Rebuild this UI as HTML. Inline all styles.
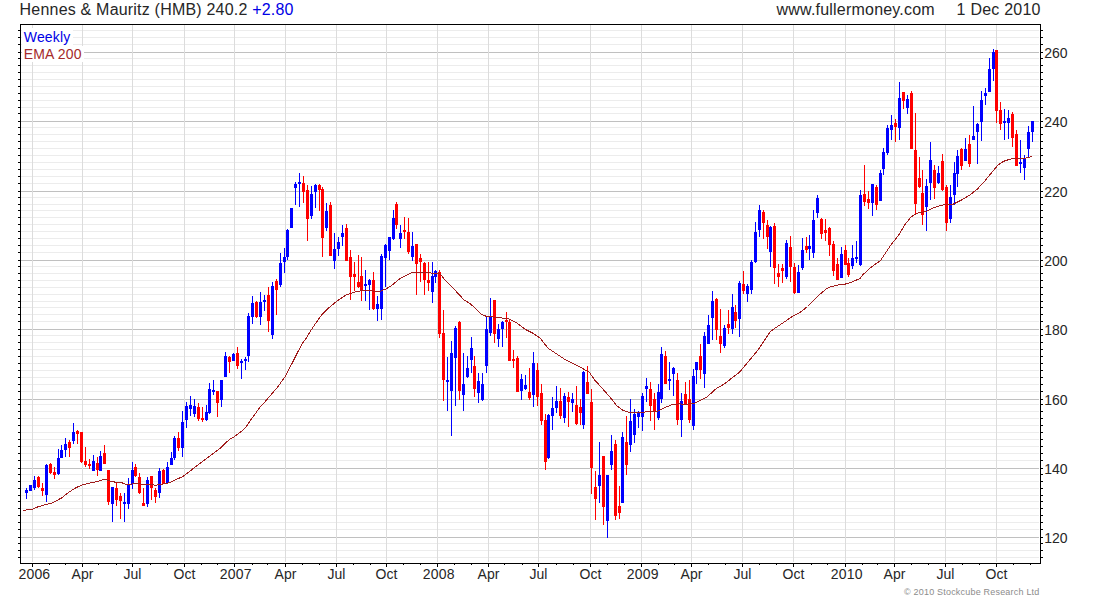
<!DOCTYPE html><html><head><meta charset="utf-8"><title>Hennes &amp; Mauritz (HMB)</title><style>html,body{margin:0;padding:0;background:#fff}body{width:1100px;height:600px;overflow:hidden;position:relative;font-family:"Liberation Sans",sans-serif;color:#262626}.t{position:absolute;white-space:nowrap;line-height:1}svg{position:absolute;left:0;top:0}</style></head><body><svg width="1100" height="600" viewBox="0 0 1100 600" shape-rendering="crispEdges"><rect x="21" y="557" width="1018" height="1" fill="#ececec"/><rect x="21" y="550" width="1018" height="1" fill="#ececec"/><rect x="21" y="543" width="1018" height="1" fill="#ececec"/><rect x="21" y="537" width="1018" height="1" fill="#c0c0c0"/><rect x="21" y="529" width="1018" height="1" fill="#ececec"/><rect x="21" y="522" width="1018" height="1" fill="#ececec"/><rect x="21" y="515" width="1018" height="1" fill="#ececec"/><rect x="21" y="508" width="1018" height="1" fill="#ececec"/><rect x="21" y="501" width="1018" height="1" fill="#ececec"/><rect x="21" y="495" width="1018" height="1" fill="#ececec"/><rect x="21" y="488" width="1018" height="1" fill="#ececec"/><rect x="21" y="481" width="1018" height="1" fill="#ececec"/><rect x="21" y="474" width="1018" height="1" fill="#ececec"/><rect x="21" y="468" width="1018" height="1" fill="#c0c0c0"/><rect x="21" y="460" width="1018" height="1" fill="#ececec"/><rect x="21" y="453" width="1018" height="1" fill="#ececec"/><rect x="21" y="446" width="1018" height="1" fill="#ececec"/><rect x="21" y="439" width="1018" height="1" fill="#ececec"/><rect x="21" y="432" width="1018" height="1" fill="#ececec"/><rect x="21" y="425" width="1018" height="1" fill="#ececec"/><rect x="21" y="418" width="1018" height="1" fill="#ececec"/><rect x="21" y="411" width="1018" height="1" fill="#ececec"/><rect x="21" y="404" width="1018" height="1" fill="#ececec"/><rect x="21" y="399" width="1018" height="1" fill="#c0c0c0"/><rect x="21" y="391" width="1018" height="1" fill="#ececec"/><rect x="21" y="384" width="1018" height="1" fill="#ececec"/><rect x="21" y="377" width="1018" height="1" fill="#ececec"/><rect x="21" y="370" width="1018" height="1" fill="#ececec"/><rect x="21" y="363" width="1018" height="1" fill="#ececec"/><rect x="21" y="356" width="1018" height="1" fill="#ececec"/><rect x="21" y="349" width="1018" height="1" fill="#ececec"/><rect x="21" y="342" width="1018" height="1" fill="#ececec"/><rect x="21" y="335" width="1018" height="1" fill="#ececec"/><rect x="21" y="329" width="1018" height="1" fill="#c0c0c0"/><rect x="21" y="321" width="1018" height="1" fill="#ececec"/><rect x="21" y="314" width="1018" height="1" fill="#ececec"/><rect x="21" y="307" width="1018" height="1" fill="#ececec"/><rect x="21" y="301" width="1018" height="1" fill="#ececec"/><rect x="21" y="294" width="1018" height="1" fill="#ececec"/><rect x="21" y="287" width="1018" height="1" fill="#ececec"/><rect x="21" y="280" width="1018" height="1" fill="#ececec"/><rect x="21" y="273" width="1018" height="1" fill="#ececec"/><rect x="21" y="266" width="1018" height="1" fill="#ececec"/><rect x="21" y="260" width="1018" height="1" fill="#c0c0c0"/><rect x="21" y="252" width="1018" height="1" fill="#ececec"/><rect x="21" y="245" width="1018" height="1" fill="#ececec"/><rect x="21" y="238" width="1018" height="1" fill="#ececec"/><rect x="21" y="231" width="1018" height="1" fill="#ececec"/><rect x="21" y="224" width="1018" height="1" fill="#ececec"/><rect x="21" y="217" width="1018" height="1" fill="#ececec"/><rect x="21" y="210" width="1018" height="1" fill="#ececec"/><rect x="21" y="204" width="1018" height="1" fill="#ececec"/><rect x="21" y="197" width="1018" height="1" fill="#ececec"/><rect x="21" y="191" width="1018" height="1" fill="#c0c0c0"/><rect x="21" y="183" width="1018" height="1" fill="#ececec"/><rect x="21" y="176" width="1018" height="1" fill="#ececec"/><rect x="21" y="169" width="1018" height="1" fill="#ececec"/><rect x="21" y="162" width="1018" height="1" fill="#ececec"/><rect x="21" y="155" width="1018" height="1" fill="#ececec"/><rect x="21" y="148" width="1018" height="1" fill="#ececec"/><rect x="21" y="141" width="1018" height="1" fill="#ececec"/><rect x="21" y="134" width="1018" height="1" fill="#ececec"/><rect x="21" y="127" width="1018" height="1" fill="#ececec"/><rect x="21" y="121" width="1018" height="1" fill="#c0c0c0"/><rect x="21" y="113" width="1018" height="1" fill="#ececec"/><rect x="21" y="107" width="1018" height="1" fill="#ececec"/><rect x="21" y="100" width="1018" height="1" fill="#ececec"/><rect x="21" y="93" width="1018" height="1" fill="#ececec"/><rect x="21" y="86" width="1018" height="1" fill="#ececec"/><rect x="21" y="79" width="1018" height="1" fill="#ececec"/><rect x="21" y="72" width="1018" height="1" fill="#ececec"/><rect x="21" y="65" width="1018" height="1" fill="#ececec"/><rect x="21" y="58" width="1018" height="1" fill="#ececec"/><rect x="21" y="52" width="1018" height="1" fill="#c0c0c0"/><rect x="21" y="44" width="1018" height="1" fill="#ececec"/><rect x="21" y="37" width="1018" height="1" fill="#ececec"/><rect x="21" y="30" width="1018" height="1" fill="#ececec"/><rect x="32" y="25" width="1" height="537" fill="#dcdcdc"/><rect x="82" y="25" width="1" height="537" fill="#dcdcdc"/><rect x="132" y="25" width="1" height="537" fill="#dcdcdc"/><rect x="184" y="25" width="1" height="537" fill="#dcdcdc"/><rect x="234" y="25" width="1" height="537" fill="#dcdcdc"/><rect x="285" y="25" width="1" height="537" fill="#dcdcdc"/><rect x="336" y="25" width="1" height="537" fill="#dcdcdc"/><rect x="386" y="25" width="1" height="537" fill="#dcdcdc"/><rect x="437" y="25" width="1" height="537" fill="#dcdcdc"/><rect x="488" y="25" width="1" height="537" fill="#dcdcdc"/><rect x="538" y="25" width="1" height="537" fill="#dcdcdc"/><rect x="590" y="25" width="1" height="537" fill="#dcdcdc"/><rect x="641" y="25" width="1" height="537" fill="#dcdcdc"/><rect x="691" y="25" width="1" height="537" fill="#dcdcdc"/><rect x="742" y="25" width="1" height="537" fill="#dcdcdc"/><rect x="793" y="25" width="1" height="537" fill="#dcdcdc"/><rect x="845" y="25" width="1" height="537" fill="#dcdcdc"/><rect x="894" y="25" width="1" height="537" fill="#dcdcdc"/><rect x="945" y="25" width="1" height="537" fill="#dcdcdc"/><rect x="996" y="25" width="1" height="537" fill="#dcdcdc"/><path fill="#ff0000" d="M38 476h1v12h-1zM37 477h3v10h-3zM42 483h1v13h-1zM41 488h3v3h-3zM50 463h1v11h-1zM49 464h3v9h-3zM54 467h1v12h-1zM53 472h3v3h-3zM69 440h1v17h-1zM68 442h3v6h-3zM77 430h1v14h-1zM76 431h3v3h-3zM81 432h1v31h-1zM80 432h3v30h-3zM85 447h1v20h-1zM84 461h3v4h-3zM89 459h1v10h-1zM88 464h3v2h-3zM97 457h1v19h-1zM96 463h3v7h-3zM104 445h1v19h-1zM103 453h3v11h-3zM108 470h1v35h-1zM107 470h3v32h-3zM116 483h1v23h-1zM115 488h3v12h-3zM120 493h1v26h-1zM119 496h3v5h-3zM135 464h1v13h-1zM134 467h3v9h-3zM139 473h1v21h-1zM138 477h3v16h-3zM143 488h1v18h-1zM142 503h3v3h-3zM151 476h1v24h-1zM150 476h3v12h-3zM155 488h1v15h-1zM154 490h3v7h-3zM163 469h1v15h-1zM162 470h3v14h-3zM178 432h1v19h-1zM177 438h3v10h-3zM198 403h1v18h-1zM197 407h3v12h-3zM202 407h1v15h-1zM201 418h3v2h-3zM217 391h1v26h-1zM216 391h3v12h-3zM229 356h1v17h-1zM228 357h3v5h-3zM237 347h1v22h-1zM236 353h3v13h-3zM256 301h1v17h-1zM255 302h3v15h-3zM268 287h1v45h-1zM267 295h3v26h-3zM276 279h1v36h-1zM275 281h3v9h-3zM303 176h1v27h-1zM302 183h3v9h-3zM307 185h1v56h-1zM306 190h3v29h-3zM319 184h1v27h-1zM318 185h3v5h-3zM322 187h1v70h-1zM321 189h3v49h-3zM330 202h1v54h-1zM329 205h3v51h-3zM346 224h1v37h-1zM345 228h3v33h-3zM350 250h1v50h-1zM349 257h3v20h-3zM354 262h1v29h-1zM353 274h3v3h-3zM358 255h1v33h-1zM357 282h3v5h-3zM361 257h1v44h-1zM360 276h3v14h-3zM373 272h1v38h-1zM372 280h3v29h-3zM396 202h1v27h-1zM395 204h3v21h-3zM404 217h1v22h-1zM403 230h3v2h-3zM408 218h1v36h-1zM407 232h3v20h-3zM416 244h1v51h-1zM415 244h3v20h-3zM420 254h1v28h-1zM419 258h3v4h-3zM424 262h1v33h-1zM423 263h3v17h-3zM428 262h1v29h-1zM427 280h3v3h-3zM439 270h1v68h-1zM438 272h3v62h-3zM443 310h1v91h-1zM442 333h3v47h-3zM459 321h1v79h-1zM458 322h3v69h-3zM474 356h1v41h-1zM473 366h3v23h-3zM494 300h1v43h-1zM493 300h3v34h-3zM506 312h1v26h-1zM505 320h3v2h-3zM509 320h1v41h-1zM508 322h3v39h-3zM513 350h1v18h-1zM512 359h3v2h-3zM517 356h1v36h-1zM516 358h3v34h-3zM529 368h1v32h-1zM528 392h3v6h-3zM537 363h1v43h-1zM536 370h3v27h-3zM541 384h1v41h-1zM540 393h3v28h-3zM545 414h1v56h-1zM544 420h3v42h-3zM560 388h1v31h-1zM559 401h3v15h-3zM568 392h1v35h-1zM567 397h3v5h-3zM576 386h1v39h-1zM575 405h3v19h-3zM580 399h1v26h-1zM579 407h3v6h-3zM587 366h1v28h-1zM586 382h3v12h-3zM591 389h1v105h-1zM590 402h3v66h-3zM595 471h1v49h-1zM594 487h3v12h-3zM603 456h1v69h-1zM602 456h3v51h-3zM615 440h1v80h-1zM614 444h3v72h-3zM619 486h1v33h-1zM618 506h3v7h-3zM626 416h1v59h-1zM625 442h3v23h-3zM650 382h1v39h-1zM649 389h3v17h-3zM654 393h1v37h-1zM653 399h3v12h-3zM665 351h1v33h-1zM664 356h3v28h-3zM677 373h1v52h-1zM676 380h3v40h-3zM685 382h1v22h-1zM684 394h3v10h-3zM689 380h1v43h-1zM688 399h3v21h-3zM700 344h1v35h-1zM699 356h3v14h-3zM716 298h1v42h-1zM715 299h3v31h-3zM720 309h1v44h-1zM719 336h3v8h-3zM728 310h1v24h-1zM727 324h3v4h-3zM735 305h1v23h-1zM734 312h3v9h-3zM743 271h1v23h-1zM742 284h3v7h-3zM763 210h1v29h-1zM762 212h3v11h-3zM767 220h1v29h-1zM766 225h3v12h-3zM774 223h1v61h-1zM773 226h3v42h-3zM778 264h1v23h-1zM777 273h3v4h-3zM782 264h1v19h-1zM781 268h3v3h-3zM790 236h1v46h-1zM789 247h3v20h-3zM794 263h1v31h-1zM793 267h3v26h-3zM806 237h1v16h-1zM805 246h3v4h-3zM821 218h1v21h-1zM820 219h3v15h-3zM825 219h1v22h-1zM824 230h3v3h-3zM829 227h1v29h-1zM828 228h3v17h-3zM833 241h1v35h-1zM832 244h3v27h-3zM837 258h1v22h-1zM836 264h3v16h-3zM845 245h1v20h-1zM844 250h3v15h-3zM848 258h1v19h-1zM847 263h3v12h-3zM864 165h1v41h-1zM863 194h3v8h-3zM868 191h1v18h-1zM867 199h3v4h-3zM876 185h1v25h-1zM875 187h3v18h-3zM895 119h1v23h-1zM894 123h3v4h-3zM903 92h1v17h-1zM902 92h3v9h-3zM911 91h1v58h-1zM910 93h3v56h-3zM915 113h1v101h-1zM914 150h3v54h-3zM919 157h1v31h-1zM918 178h3v9h-3zM922 170h1v55h-1zM921 193h3v22h-3zM934 165h1v34h-1zM933 170h3v18h-3zM942 154h1v37h-1zM941 161h3v29h-3zM946 185h1v46h-1zM945 187h3v36h-3zM961 148h1v22h-1zM960 149h3v17h-3zM969 135h1v32h-1zM968 144h3v20h-3zM996 50h1v73h-1zM995 50h3v61h-3zM1000 102h1v28h-1zM999 110h3v14h-3zM1012 112h1v35h-1zM1011 114h3v24h-3zM1016 130h1v36h-1zM1015 134h3v32h-3z"/><path fill="#0000ff" d="M26 488h1v11h-1zM25 490h3v3h-3zM30 485h1v6h-1zM29 485h3v6h-3zM34 476h1v14h-1zM33 480h3v8h-3zM46 464h1v38h-1zM45 465h3v30h-3zM58 449h1v26h-1zM57 458h3v16h-3zM61 445h1v13h-1zM60 450h3v8h-3zM65 438h1v19h-1zM64 444h3v6h-3zM73 423h1v21h-1zM72 432h3v9h-3zM93 455h1v16h-1zM92 461h3v10h-3zM100 451h1v20h-1zM99 456h3v15h-3zM112 487h1v35h-1zM111 487h3v17h-3zM124 493h1v29h-1zM123 502h3v2h-3zM128 478h1v31h-1zM127 484h3v20h-3zM132 462h1v27h-1zM131 470h3v14h-3zM147 477h1v30h-1zM146 480h3v24h-3zM159 468h1v30h-1zM158 471h3v22h-3zM167 462h1v21h-1zM166 467h3v16h-3zM171 452h1v13h-1zM170 458h3v7h-3zM174 436h1v24h-1zM173 438h3v20h-3zM182 411h1v46h-1zM181 422h3v26h-3zM186 402h1v26h-1zM185 406h3v14h-3zM190 396h1v20h-1zM189 405h3v4h-3zM194 399h1v18h-1zM193 406h3v8h-3zM206 405h1v16h-1zM205 412h3v8h-3zM209 383h1v31h-1zM208 389h3v24h-3zM213 380h1v15h-1zM212 390h3v2h-3zM221 380h1v27h-1zM220 380h3v20h-3zM225 352h1v25h-1zM224 356h3v21h-3zM233 353h1v8h-1zM232 354h3v7h-3zM241 359h1v20h-1zM240 361h3v2h-3zM245 357h1v13h-1zM244 359h3v2h-3zM248 313h1v49h-1zM247 316h3v40h-3zM252 296h1v28h-1zM251 303h3v14h-3zM260 292h1v33h-1zM259 302h3v15h-3zM264 295h1v16h-1zM263 300h3v2h-3zM272 282h1v57h-1zM271 286h3v49h-3zM280 253h1v34h-1zM279 263h3v22h-3zM284 248h1v25h-1zM283 257h3v5h-3zM287 229h1v31h-1zM286 230h3v27h-3zM291 208h1v20h-1zM290 208h3v20h-3zM295 182h1v23h-1zM294 184h3v4h-3zM299 173h1v34h-1zM298 182h3v2h-3zM311 186h1v33h-1zM310 194h3v22h-3zM315 184h1v24h-1zM314 185h3v7h-3zM326 203h1v28h-1zM325 211h3v17h-3zM334 233h1v36h-1zM333 249h3v12h-3zM338 237h1v19h-1zM337 242h3v7h-3zM342 225h1v21h-1zM341 233h3v4h-3zM365 270h1v31h-1zM364 284h3v2h-3zM369 279h1v31h-1zM368 280h3v5h-3zM377 296h1v25h-1zM376 304h3v5h-3zM381 254h1v66h-1zM380 256h3v53h-3zM385 244h1v43h-1zM384 245h3v13h-3zM389 237h1v23h-1zM388 237h3v14h-3zM393 210h1v30h-1zM392 218h3v21h-3zM400 225h1v23h-1zM399 233h3v6h-3zM412 232h1v29h-1zM411 246h3v11h-3zM432 262h1v41h-1zM431 276h3v16h-3zM435 270h1v13h-1zM434 271h3v6h-3zM447 357h1v54h-1zM446 380h3v2h-3zM451 341h1v95h-1zM450 353h3v38h-3zM455 326h1v80h-1zM454 328h3v30h-3zM463 353h1v58h-1zM462 384h3v11h-3zM467 356h1v22h-1zM466 368h3v9h-3zM471 337h1v36h-1zM470 348h3v12h-3zM478 373h1v30h-1zM477 381h3v12h-3zM482 373h1v28h-1zM481 384h3v16h-3zM486 316h1v57h-1zM485 329h3v37h-3zM490 298h1v38h-1zM489 316h3v17h-3zM498 324h1v23h-1zM497 329h3v10h-3zM502 321h1v26h-1zM501 322h3v7h-3zM521 374h1v26h-1zM520 379h3v12h-3zM525 375h1v15h-1zM524 385h3v4h-3zM533 352h1v55h-1zM532 363h3v32h-3zM548 414h1v45h-1zM547 415h3v43h-3zM552 397h1v33h-1zM551 408h3v8h-3zM556 386h1v27h-1zM555 401h3v7h-3zM564 393h1v30h-1zM563 396h3v22h-3zM572 393h1v19h-1zM571 399h3v4h-3zM583 371h1v58h-1zM582 372h3v53h-3zM599 442h1v61h-1zM598 475h3v11h-3zM607 475h1v63h-1zM606 475h3v46h-3zM611 435h1v35h-1zM610 451h3v14h-3zM622 432h1v71h-1zM621 437h3v66h-3zM630 399h1v53h-1zM629 421h3v24h-3zM634 409h1v34h-1zM633 414h3v21h-3zM638 411h1v17h-1zM637 413h3v4h-3zM642 393h1v38h-1zM641 396h3v21h-3zM646 378h1v24h-1zM645 386h3v3h-3zM658 384h1v36h-1zM657 392h3v26h-3zM661 347h1v56h-1zM660 354h3v45h-3zM669 362h1v28h-1zM668 379h3v2h-3zM673 367h1v29h-1zM672 368h3v6h-3zM681 393h1v44h-1zM680 401h3v19h-3zM693 369h1v61h-1zM692 376h3v50h-3zM696 362h1v22h-1zM695 362h3v8h-3zM704 332h1v56h-1zM703 336h3v38h-3zM708 315h1v29h-1zM707 325h3v19h-3zM712 291h1v49h-1zM711 301h3v17h-3zM724 325h1v23h-1zM723 328h3v18h-3zM732 294h1v40h-1zM731 307h3v22h-3zM739 281h1v56h-1zM738 283h3v36h-3zM747 284h1v18h-1zM746 286h3v8h-3zM751 260h1v34h-1zM750 262h3v28h-3zM755 222h1v41h-1zM754 232h3v30h-3zM759 205h1v32h-1zM758 210h3v20h-3zM770 226h1v41h-1zM769 227h3v25h-3zM786 240h1v39h-1zM785 243h3v34h-3zM798 265h1v28h-1zM797 272h3v21h-3zM802 238h1v32h-1zM801 250h3v18h-3zM809 235h1v25h-1zM808 246h3v3h-3zM813 210h1v48h-1zM812 220h3v33h-3zM817 195h1v23h-1zM816 198h3v15h-3zM841 247h1v31h-1zM840 254h3v24h-3zM852 245h1v24h-1zM851 258h3v8h-3zM856 241h1v22h-1zM855 257h3v2h-3zM860 190h1v76h-1zM859 195h3v70h-3zM872 184h1v32h-1zM871 184h3v19h-3zM880 170h1v31h-1zM879 173h3v28h-3zM883 148h1v27h-1zM882 152h3v17h-3zM887 125h1v30h-1zM886 128h3v25h-3zM891 115h1v25h-1zM890 125h3v5h-3zM899 82h1v58h-1zM898 98h3v30h-3zM907 95h1v19h-1zM906 99h3v9h-3zM926 179h1v52h-1zM925 186h3v21h-3zM930 142h1v58h-1zM929 160h3v23h-3zM938 166h1v18h-1zM937 173h3v10h-3zM950 185h1v38h-1zM949 197h3v22h-3zM954 162h1v43h-1zM953 173h3v22h-3zM957 150h1v37h-1zM956 156h3v18h-3zM965 138h1v23h-1zM964 149h3v12h-3zM973 106h1v34h-1zM972 136h3v4h-3zM977 123h1v41h-1zM976 124h3v8h-3zM981 91h1v50h-1zM980 100h3v22h-3zM985 88h1v17h-1zM984 93h3v3h-3zM989 58h1v34h-1zM988 69h3v23h-3zM993 49h1v32h-1zM992 52h3v17h-3zM1004 109h1v31h-1zM1003 121h3v2h-3zM1008 110h1v29h-1zM1007 118h3v5h-3zM1020 140h1v33h-1zM1019 162h3v2h-3zM1024 155h1v25h-1zM1023 158h3v10h-3zM1028 126h1v32h-1zM1027 132h3v17h-3zM1032 121h1v21h-1zM1031 121h3v11h-3z"/><polyline fill="none" stroke="#a01c1c" stroke-width="1" points="23.2,510.4 32.2,509.2 37.5,507.0 46.5,504.4 52.5,502.8 61.5,498.0 67.5,493.2 75.0,488.2 82.5,484.8 90.0,483.0 97.5,481.5 105.0,479.2 109.5,480.8 117.0,482.6 121.5,482.6 126.0,484.5 135.0,483.8 147.0,484.2 156.0,485.2 162.0,484.2 169.5,482.7 175.5,479.7 182.5,476.7 211.5,454.8 220.0,448.5 230.0,438.8 234.0,437.0 240.0,432.5 243.0,430.0 246.0,427.0 252.0,418.2 258.0,410.0 261.0,406.0 264.0,403.0 269.9,396.0 277.5,387.2 285.0,376.8 292.5,362.5 297.4,352.8 302.5,343.0 305.2,340.0 310.0,331.8 316.0,322.8 322.0,314.5 328.0,308.5 337.0,301.0 346.0,295.0 355.0,292.0 361.0,290.8 370.0,290.8 379.5,291.5 385.5,289.2 391.5,285.5 399.5,279.0 405.5,275.7 412.2,272.6 429.5,272.6 432.5,273.3 440.0,273.8 446.0,281.2 455.0,290.2 459.5,295.0 464.0,300.0 470.0,303.5 476.0,309.0 481.2,314.1 486.5,316.4 495.5,317.2 503.0,318.2 509.0,319.0 516.5,322.8 525.5,329.5 533.0,333.2 540.5,338.5 548.0,348.2 557.0,354.2 566.0,360.2 575.0,364.6 583.2,368.8 589.3,372.2 594.5,379.8 602.0,388.0 611.4,398.9 617.0,406.0 620.0,408.2 623.0,410.5 629.0,412.3 638.0,412.8 644.0,412.3 647.0,411.7 657.5,411.2 665.0,407.5 672.5,404.5 680.0,403.8 683.0,404.5 694.8,403.3 707.0,397.0 716.0,388.8 725.0,383.5 732.5,377.5 739.5,372.2 758.0,350.0 764.0,341.0 770.0,332.0 776.0,327.5 785.0,321.5 792.5,316.2 800.0,312.5 807.5,306.5 814.5,299.5 820.5,293.8 826.5,288.6 830.0,287.0 833.0,286.2 839.5,284.6 845.3,284.1 852.0,282.0 860.0,278.5 862.5,275.0 866.0,272.0 870.0,268.2 874.0,265.0 880.5,260.6 885.5,253.0 890.5,245.5 895.2,239.5 899.3,234.2 905.0,224.5 911.0,217.0 917.0,213.2 926.0,211.3 935.0,207.2 944.0,204.7 953.0,204.2 962.0,199.8 969.5,195.2 976.8,189.6 984.0,182.1 989.0,175.8 993.1,171.0 997.4,165.6 1003.1,161.5 1009.4,159.4 1012.0,158.8 1016.0,158.3 1020.0,158.5 1025.5,158.1 1031.6,156.7"/><rect x="20" y="24" width="1021" height="1" fill="#000"/><rect x="20" y="563" width="1021" height="1" fill="#000"/><rect x="20" y="24" width="1" height="540" fill="#000"/><rect x="1040" y="24" width="1" height="540" fill="#000"/><rect x="18" y="557" width="2" height="1" fill="#000"/><rect x="1041" y="557" width="2" height="1" fill="#000"/><rect x="18" y="550" width="2" height="1" fill="#000"/><rect x="1041" y="550" width="2" height="1" fill="#000"/><rect x="18" y="543" width="2" height="1" fill="#000"/><rect x="1041" y="543" width="2" height="1" fill="#000"/><rect x="18" y="537" width="2" height="1" fill="#000"/><rect x="1041" y="537" width="2" height="1" fill="#000"/><rect x="18" y="529" width="2" height="1" fill="#000"/><rect x="1041" y="529" width="2" height="1" fill="#000"/><rect x="18" y="522" width="2" height="1" fill="#000"/><rect x="1041" y="522" width="2" height="1" fill="#000"/><rect x="18" y="515" width="2" height="1" fill="#000"/><rect x="1041" y="515" width="2" height="1" fill="#000"/><rect x="18" y="508" width="2" height="1" fill="#000"/><rect x="1041" y="508" width="2" height="1" fill="#000"/><rect x="18" y="501" width="2" height="1" fill="#000"/><rect x="1041" y="501" width="2" height="1" fill="#000"/><rect x="18" y="495" width="2" height="1" fill="#000"/><rect x="1041" y="495" width="2" height="1" fill="#000"/><rect x="18" y="488" width="2" height="1" fill="#000"/><rect x="1041" y="488" width="2" height="1" fill="#000"/><rect x="18" y="481" width="2" height="1" fill="#000"/><rect x="1041" y="481" width="2" height="1" fill="#000"/><rect x="18" y="474" width="2" height="1" fill="#000"/><rect x="1041" y="474" width="2" height="1" fill="#000"/><rect x="18" y="468" width="2" height="1" fill="#000"/><rect x="1041" y="468" width="2" height="1" fill="#000"/><rect x="18" y="460" width="2" height="1" fill="#000"/><rect x="1041" y="460" width="2" height="1" fill="#000"/><rect x="18" y="453" width="2" height="1" fill="#000"/><rect x="1041" y="453" width="2" height="1" fill="#000"/><rect x="18" y="446" width="2" height="1" fill="#000"/><rect x="1041" y="446" width="2" height="1" fill="#000"/><rect x="18" y="439" width="2" height="1" fill="#000"/><rect x="1041" y="439" width="2" height="1" fill="#000"/><rect x="18" y="432" width="2" height="1" fill="#000"/><rect x="1041" y="432" width="2" height="1" fill="#000"/><rect x="18" y="425" width="2" height="1" fill="#000"/><rect x="1041" y="425" width="2" height="1" fill="#000"/><rect x="18" y="418" width="2" height="1" fill="#000"/><rect x="1041" y="418" width="2" height="1" fill="#000"/><rect x="18" y="411" width="2" height="1" fill="#000"/><rect x="1041" y="411" width="2" height="1" fill="#000"/><rect x="18" y="404" width="2" height="1" fill="#000"/><rect x="1041" y="404" width="2" height="1" fill="#000"/><rect x="18" y="399" width="2" height="1" fill="#000"/><rect x="1041" y="399" width="2" height="1" fill="#000"/><rect x="18" y="391" width="2" height="1" fill="#000"/><rect x="1041" y="391" width="2" height="1" fill="#000"/><rect x="18" y="384" width="2" height="1" fill="#000"/><rect x="1041" y="384" width="2" height="1" fill="#000"/><rect x="18" y="377" width="2" height="1" fill="#000"/><rect x="1041" y="377" width="2" height="1" fill="#000"/><rect x="18" y="370" width="2" height="1" fill="#000"/><rect x="1041" y="370" width="2" height="1" fill="#000"/><rect x="18" y="363" width="2" height="1" fill="#000"/><rect x="1041" y="363" width="2" height="1" fill="#000"/><rect x="18" y="356" width="2" height="1" fill="#000"/><rect x="1041" y="356" width="2" height="1" fill="#000"/><rect x="18" y="349" width="2" height="1" fill="#000"/><rect x="1041" y="349" width="2" height="1" fill="#000"/><rect x="18" y="342" width="2" height="1" fill="#000"/><rect x="1041" y="342" width="2" height="1" fill="#000"/><rect x="18" y="335" width="2" height="1" fill="#000"/><rect x="1041" y="335" width="2" height="1" fill="#000"/><rect x="18" y="329" width="2" height="1" fill="#000"/><rect x="1041" y="329" width="2" height="1" fill="#000"/><rect x="18" y="321" width="2" height="1" fill="#000"/><rect x="1041" y="321" width="2" height="1" fill="#000"/><rect x="18" y="314" width="2" height="1" fill="#000"/><rect x="1041" y="314" width="2" height="1" fill="#000"/><rect x="18" y="307" width="2" height="1" fill="#000"/><rect x="1041" y="307" width="2" height="1" fill="#000"/><rect x="18" y="301" width="2" height="1" fill="#000"/><rect x="1041" y="301" width="2" height="1" fill="#000"/><rect x="18" y="294" width="2" height="1" fill="#000"/><rect x="1041" y="294" width="2" height="1" fill="#000"/><rect x="18" y="287" width="2" height="1" fill="#000"/><rect x="1041" y="287" width="2" height="1" fill="#000"/><rect x="18" y="280" width="2" height="1" fill="#000"/><rect x="1041" y="280" width="2" height="1" fill="#000"/><rect x="18" y="273" width="2" height="1" fill="#000"/><rect x="1041" y="273" width="2" height="1" fill="#000"/><rect x="18" y="266" width="2" height="1" fill="#000"/><rect x="1041" y="266" width="2" height="1" fill="#000"/><rect x="18" y="260" width="2" height="1" fill="#000"/><rect x="1041" y="260" width="2" height="1" fill="#000"/><rect x="18" y="252" width="2" height="1" fill="#000"/><rect x="1041" y="252" width="2" height="1" fill="#000"/><rect x="18" y="245" width="2" height="1" fill="#000"/><rect x="1041" y="245" width="2" height="1" fill="#000"/><rect x="18" y="238" width="2" height="1" fill="#000"/><rect x="1041" y="238" width="2" height="1" fill="#000"/><rect x="18" y="231" width="2" height="1" fill="#000"/><rect x="1041" y="231" width="2" height="1" fill="#000"/><rect x="18" y="224" width="2" height="1" fill="#000"/><rect x="1041" y="224" width="2" height="1" fill="#000"/><rect x="18" y="217" width="2" height="1" fill="#000"/><rect x="1041" y="217" width="2" height="1" fill="#000"/><rect x="18" y="210" width="2" height="1" fill="#000"/><rect x="1041" y="210" width="2" height="1" fill="#000"/><rect x="18" y="204" width="2" height="1" fill="#000"/><rect x="1041" y="204" width="2" height="1" fill="#000"/><rect x="18" y="197" width="2" height="1" fill="#000"/><rect x="1041" y="197" width="2" height="1" fill="#000"/><rect x="18" y="191" width="2" height="1" fill="#000"/><rect x="1041" y="191" width="2" height="1" fill="#000"/><rect x="18" y="183" width="2" height="1" fill="#000"/><rect x="1041" y="183" width="2" height="1" fill="#000"/><rect x="18" y="176" width="2" height="1" fill="#000"/><rect x="1041" y="176" width="2" height="1" fill="#000"/><rect x="18" y="169" width="2" height="1" fill="#000"/><rect x="1041" y="169" width="2" height="1" fill="#000"/><rect x="18" y="162" width="2" height="1" fill="#000"/><rect x="1041" y="162" width="2" height="1" fill="#000"/><rect x="18" y="155" width="2" height="1" fill="#000"/><rect x="1041" y="155" width="2" height="1" fill="#000"/><rect x="18" y="148" width="2" height="1" fill="#000"/><rect x="1041" y="148" width="2" height="1" fill="#000"/><rect x="18" y="141" width="2" height="1" fill="#000"/><rect x="1041" y="141" width="2" height="1" fill="#000"/><rect x="18" y="134" width="2" height="1" fill="#000"/><rect x="1041" y="134" width="2" height="1" fill="#000"/><rect x="18" y="127" width="2" height="1" fill="#000"/><rect x="1041" y="127" width="2" height="1" fill="#000"/><rect x="18" y="121" width="2" height="1" fill="#000"/><rect x="1041" y="121" width="2" height="1" fill="#000"/><rect x="18" y="113" width="2" height="1" fill="#000"/><rect x="1041" y="113" width="2" height="1" fill="#000"/><rect x="18" y="107" width="2" height="1" fill="#000"/><rect x="1041" y="107" width="2" height="1" fill="#000"/><rect x="18" y="100" width="2" height="1" fill="#000"/><rect x="1041" y="100" width="2" height="1" fill="#000"/><rect x="18" y="93" width="2" height="1" fill="#000"/><rect x="1041" y="93" width="2" height="1" fill="#000"/><rect x="18" y="86" width="2" height="1" fill="#000"/><rect x="1041" y="86" width="2" height="1" fill="#000"/><rect x="18" y="79" width="2" height="1" fill="#000"/><rect x="1041" y="79" width="2" height="1" fill="#000"/><rect x="18" y="72" width="2" height="1" fill="#000"/><rect x="1041" y="72" width="2" height="1" fill="#000"/><rect x="18" y="65" width="2" height="1" fill="#000"/><rect x="1041" y="65" width="2" height="1" fill="#000"/><rect x="18" y="58" width="2" height="1" fill="#000"/><rect x="1041" y="58" width="2" height="1" fill="#000"/><rect x="18" y="52" width="2" height="1" fill="#000"/><rect x="1041" y="52" width="2" height="1" fill="#000"/><rect x="18" y="44" width="2" height="1" fill="#000"/><rect x="1041" y="44" width="2" height="1" fill="#000"/><rect x="18" y="37" width="2" height="1" fill="#000"/><rect x="1041" y="37" width="2" height="1" fill="#000"/><rect x="18" y="30" width="2" height="1" fill="#000"/><rect x="1041" y="30" width="2" height="1" fill="#000"/><rect x="32" y="564" width="1" height="3" fill="#000"/><rect x="49" y="564" width="1" height="1" fill="#000"/><rect x="65" y="564" width="1" height="1" fill="#000"/><rect x="82" y="564" width="1" height="3" fill="#000"/><rect x="98" y="564" width="1" height="1" fill="#000"/><rect x="116" y="564" width="1" height="1" fill="#000"/><rect x="132" y="564" width="1" height="3" fill="#000"/><rect x="150" y="564" width="1" height="1" fill="#000"/><rect x="167" y="564" width="1" height="1" fill="#000"/><rect x="184" y="564" width="1" height="3" fill="#000"/><rect x="201" y="564" width="1" height="1" fill="#000"/><rect x="217" y="564" width="1" height="1" fill="#000"/><rect x="234" y="564" width="1" height="3" fill="#000"/><rect x="252" y="564" width="1" height="1" fill="#000"/><rect x="267" y="564" width="1" height="1" fill="#000"/><rect x="285" y="564" width="1" height="3" fill="#000"/><rect x="302" y="564" width="1" height="1" fill="#000"/><rect x="319" y="564" width="1" height="1" fill="#000"/><rect x="336" y="564" width="1" height="3" fill="#000"/><rect x="353" y="564" width="1" height="1" fill="#000"/><rect x="370" y="564" width="1" height="1" fill="#000"/><rect x="386" y="564" width="1" height="3" fill="#000"/><rect x="403" y="564" width="1" height="1" fill="#000"/><rect x="420" y="564" width="1" height="1" fill="#000"/><rect x="437" y="564" width="1" height="3" fill="#000"/><rect x="454" y="564" width="1" height="1" fill="#000"/><rect x="471" y="564" width="1" height="1" fill="#000"/><rect x="488" y="564" width="1" height="3" fill="#000"/><rect x="504" y="564" width="1" height="1" fill="#000"/><rect x="522" y="564" width="1" height="1" fill="#000"/><rect x="538" y="564" width="1" height="3" fill="#000"/><rect x="556" y="564" width="1" height="1" fill="#000"/><rect x="573" y="564" width="1" height="1" fill="#000"/><rect x="590" y="564" width="1" height="3" fill="#000"/><rect x="607" y="564" width="1" height="1" fill="#000"/><rect x="624" y="564" width="1" height="1" fill="#000"/><rect x="641" y="564" width="1" height="3" fill="#000"/><rect x="658" y="564" width="1" height="1" fill="#000"/><rect x="674" y="564" width="1" height="1" fill="#000"/><rect x="691" y="564" width="1" height="3" fill="#000"/><rect x="708" y="564" width="1" height="1" fill="#000"/><rect x="725" y="564" width="1" height="1" fill="#000"/><rect x="742" y="564" width="1" height="3" fill="#000"/><rect x="759" y="564" width="1" height="1" fill="#000"/><rect x="776" y="564" width="1" height="1" fill="#000"/><rect x="793" y="564" width="1" height="3" fill="#000"/><rect x="811" y="564" width="1" height="1" fill="#000"/><rect x="827" y="564" width="1" height="1" fill="#000"/><rect x="845" y="564" width="1" height="3" fill="#000"/><rect x="862" y="564" width="1" height="1" fill="#000"/><rect x="877" y="564" width="1" height="1" fill="#000"/><rect x="894" y="564" width="1" height="3" fill="#000"/><rect x="911" y="564" width="1" height="1" fill="#000"/><rect x="928" y="564" width="1" height="1" fill="#000"/><rect x="945" y="564" width="1" height="3" fill="#000"/><rect x="962" y="564" width="1" height="1" fill="#000"/><rect x="979" y="564" width="1" height="1" fill="#000"/><rect x="996" y="564" width="1" height="3" fill="#000"/><rect x="1013" y="564" width="1" height="1" fill="#000"/><rect x="1030" y="564" width="1" height="1" fill="#000"/></svg><div class="t" style="left:22px;top:28px;width:51px;height:18px;background:#fff"></div><div class="t" style="left:22px;top:46px;width:62px;height:16px;background:#fff"></div><div class="t" style="left:23.8px;top:30px;font-size:14px;letter-spacing:0.15px;color:#0000e6">Weekly</div><div class="t" style="left:23.8px;top:46.5px;font-size:14px;letter-spacing:0.15px;color:#a52a2a">EMA 200</div><div class="t" style="left:19.6px;top:2.3px;font-size:16px;letter-spacing:0.2px">Hennes &amp; Mauritz (HMB) 240.2 <span style="color:#0000e6">+2.80</span></div><div class="t" style="left:776.6px;top:2.3px;font-size:16px;letter-spacing:0.2px">www.fullermoney.com</div><div class="t" style="left:956.6px;top:2.3px;font-size:16px;letter-spacing:0.22px">1 Dec 2010</div><div class="t" style="left:1044.3px;top:530.8px;font-size:14px">120</div><div class="t" style="left:1044.3px;top:461.8px;font-size:14px">140</div><div class="t" style="left:1044.3px;top:392.8px;font-size:14px">160</div><div class="t" style="left:1044.3px;top:322.8px;font-size:14px">180</div><div class="t" style="left:1044.3px;top:253.8px;font-size:14px">200</div><div class="t" style="left:1044.3px;top:184.8px;font-size:14px">220</div><div class="t" style="left:1044.3px;top:114.8px;font-size:14px">240</div><div class="t" style="left:1044.3px;top:45.8px;font-size:14px">260</div><div class="t" style="left:4.4px;width:60px;text-align:center;top:566.5px;font-size:14px;letter-spacing:0.2px;">2006</div><div class="t" style="left:52.5px;width:60px;text-align:center;top:566.5px;font-size:14px;">Apr</div><div class="t" style="left:102.5px;width:60px;text-align:center;top:566.5px;font-size:14px;">Jul</div><div class="t" style="left:154.5px;width:60px;text-align:center;top:566.5px;font-size:14px;">Oct</div><div class="t" style="left:205.8px;width:60px;text-align:center;top:566.5px;font-size:14px;letter-spacing:0.2px;">2007</div><div class="t" style="left:255.5px;width:60px;text-align:center;top:566.5px;font-size:14px;">Apr</div><div class="t" style="left:306.5px;width:60px;text-align:center;top:566.5px;font-size:14px;">Jul</div><div class="t" style="left:356.5px;width:60px;text-align:center;top:566.5px;font-size:14px;">Oct</div><div class="t" style="left:408.8px;width:60px;text-align:center;top:566.5px;font-size:14px;letter-spacing:0.2px;">2008</div><div class="t" style="left:458.5px;width:60px;text-align:center;top:566.5px;font-size:14px;">Apr</div><div class="t" style="left:508.5px;width:60px;text-align:center;top:566.5px;font-size:14px;">Jul</div><div class="t" style="left:560.5px;width:60px;text-align:center;top:566.5px;font-size:14px;">Oct</div><div class="t" style="left:612.8px;width:60px;text-align:center;top:566.5px;font-size:14px;letter-spacing:0.2px;">2009</div><div class="t" style="left:661.5px;width:60px;text-align:center;top:566.5px;font-size:14px;">Apr</div><div class="t" style="left:712.5px;width:60px;text-align:center;top:566.5px;font-size:14px;">Jul</div><div class="t" style="left:763.5px;width:60px;text-align:center;top:566.5px;font-size:14px;">Oct</div><div class="t" style="left:816.8px;width:60px;text-align:center;top:566.5px;font-size:14px;letter-spacing:0.2px;">2010</div><div class="t" style="left:864.5px;width:60px;text-align:center;top:566.5px;font-size:14px;">Apr</div><div class="t" style="left:915.5px;width:60px;text-align:center;top:566.5px;font-size:14px;">Jul</div><div class="t" style="left:966.5px;width:60px;text-align:center;top:566.5px;font-size:14px;">Oct</div><div class="t" style="right:60.5px;top:587.6px;font-size:9px;color:#8c8c8c;letter-spacing:0.2px">© 2010 Stockcube Research Ltd</div></body></html>
